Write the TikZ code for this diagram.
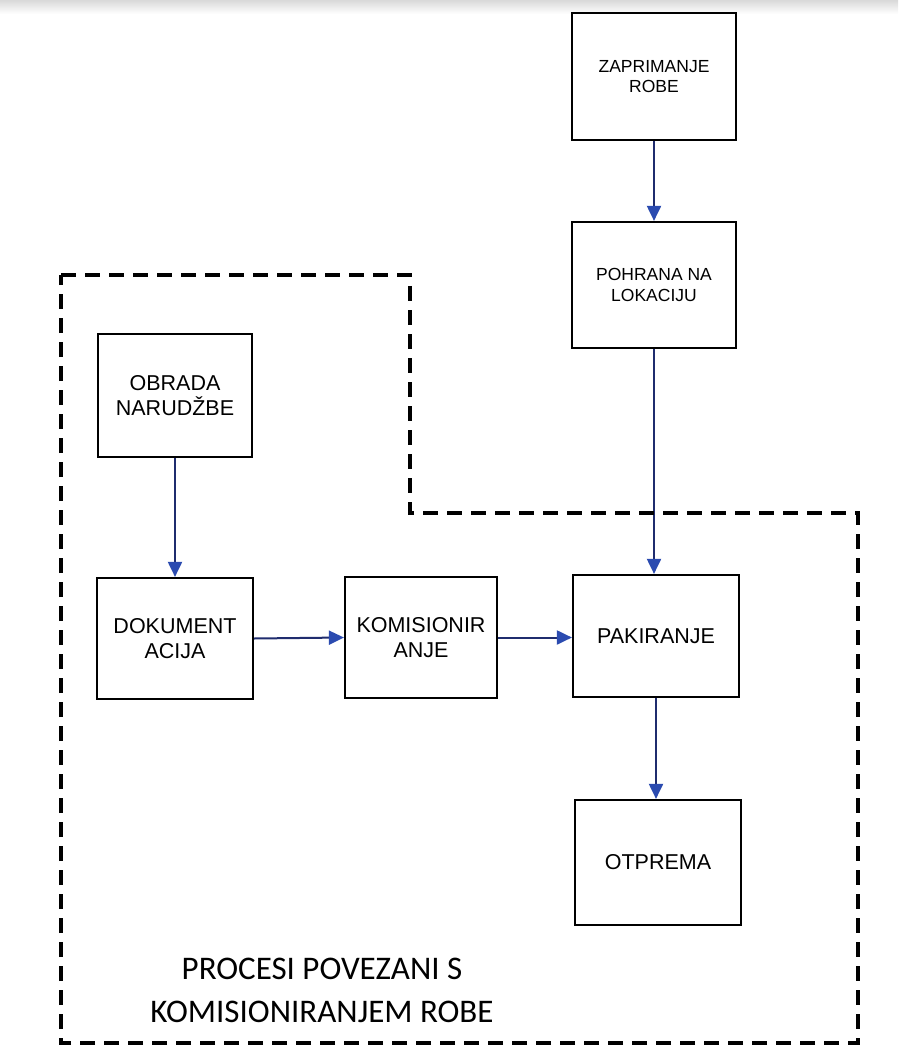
\documentclass[tikz,border=0pt]{standalone}
\usepackage{fontspec}
\setmainfont{Liberation Sans}
\newfontfamily\labelfont{Carlito}
\usetikzlibrary{arrows.meta}
\definecolor{arrline}{HTML}{1F2C6E}
\definecolor{arrhead}{HTML}{2B4BB0}
\tikzset{
  box/.style={draw=black, line width=2.2pt, rectangle, align=center, inner sep=2pt,
    font=\fontsize{21.5}{25}\selectfont},
  smallbox/.style={box, font=\fontsize{17.5}{20.5}\selectfont},
  flow/.style={draw=arrline, line width=2pt,
    -{Triangle[length=15pt,width=14pt,color=arrhead,fill=arrhead]}},
  region/.style={draw=black, line width=3.2pt, dash pattern=on 15pt off 9pt}
}
\begin{document}
\begin{tikzpicture}[x=1pt,y=-1pt]
\useasboundingbox (0,0) rectangle (898,1048);
\fill[white] (0,0) rectangle (898,1048);
\shade[top color=black!15, bottom color=white] (0,14) rectangle (898,0);
% boxes
\node[smallbox, minimum width=164pt, minimum height=127pt] (zap) at (654,76.5) {ZAPRIMANJE\\ROBE};
\node[smallbox, minimum width=164pt, minimum height=126pt] (poh) at (654,285) {POHRANA NA\\LOKACIJU};
\node[box, minimum width=154pt, minimum height=123pt] (obr) at (175,395.5) {OBRADA\\NARUDŽBE};
\node[box, minimum width=156pt, minimum height=121pt] (dok) at (175,638.5) {DOKUMENT\\ACIJA};
\node[box, minimum width=152pt, minimum height=121pt] (kom) at (421,637.5) {KOMISIONIR\\ANJE};
\node[box, minimum width=166pt, minimum height=122pt] (pak) at (656,636) {PAKIRANJE};
\node[box, minimum width=166pt, minimum height=125pt] (otp) at (658,862.5) {OTPREMA};
% connectors
\draw[flow] (zap.south) -- (poh.north);
\draw[flow] (poh.south) -- (poh.south |- pak.north);
\draw[flow] (obr.south) -- (dok.north);
\draw[flow] (dok.east) -- (kom.west);
\draw[flow] (kom.east) -- (kom.east -| pak.west);
\draw[flow] (pak.south) -- (pak.south |- otp.north);
% region boundary
\coordinate (r1) at (61,275);
\coordinate (r2) at (410,275);
\coordinate (r3) at (410,513);
\coordinate (r4) at (858,513);
\coordinate (r5) at (858,1043);
\coordinate (r6) at (61,1043);
\draw[region] (r1) -- (r2) -- (r3) -- (r4) -- (r5) -- (r6) -- cycle;
\node[font=\labelfont\fontsize{33}{43}\selectfont, align=center, inner sep=0pt] (lbl) at (322,990) {PROCESI POVEZANI S\\KOMISIONIRANJEM ROBE};
\end{tikzpicture}
\end{document}
